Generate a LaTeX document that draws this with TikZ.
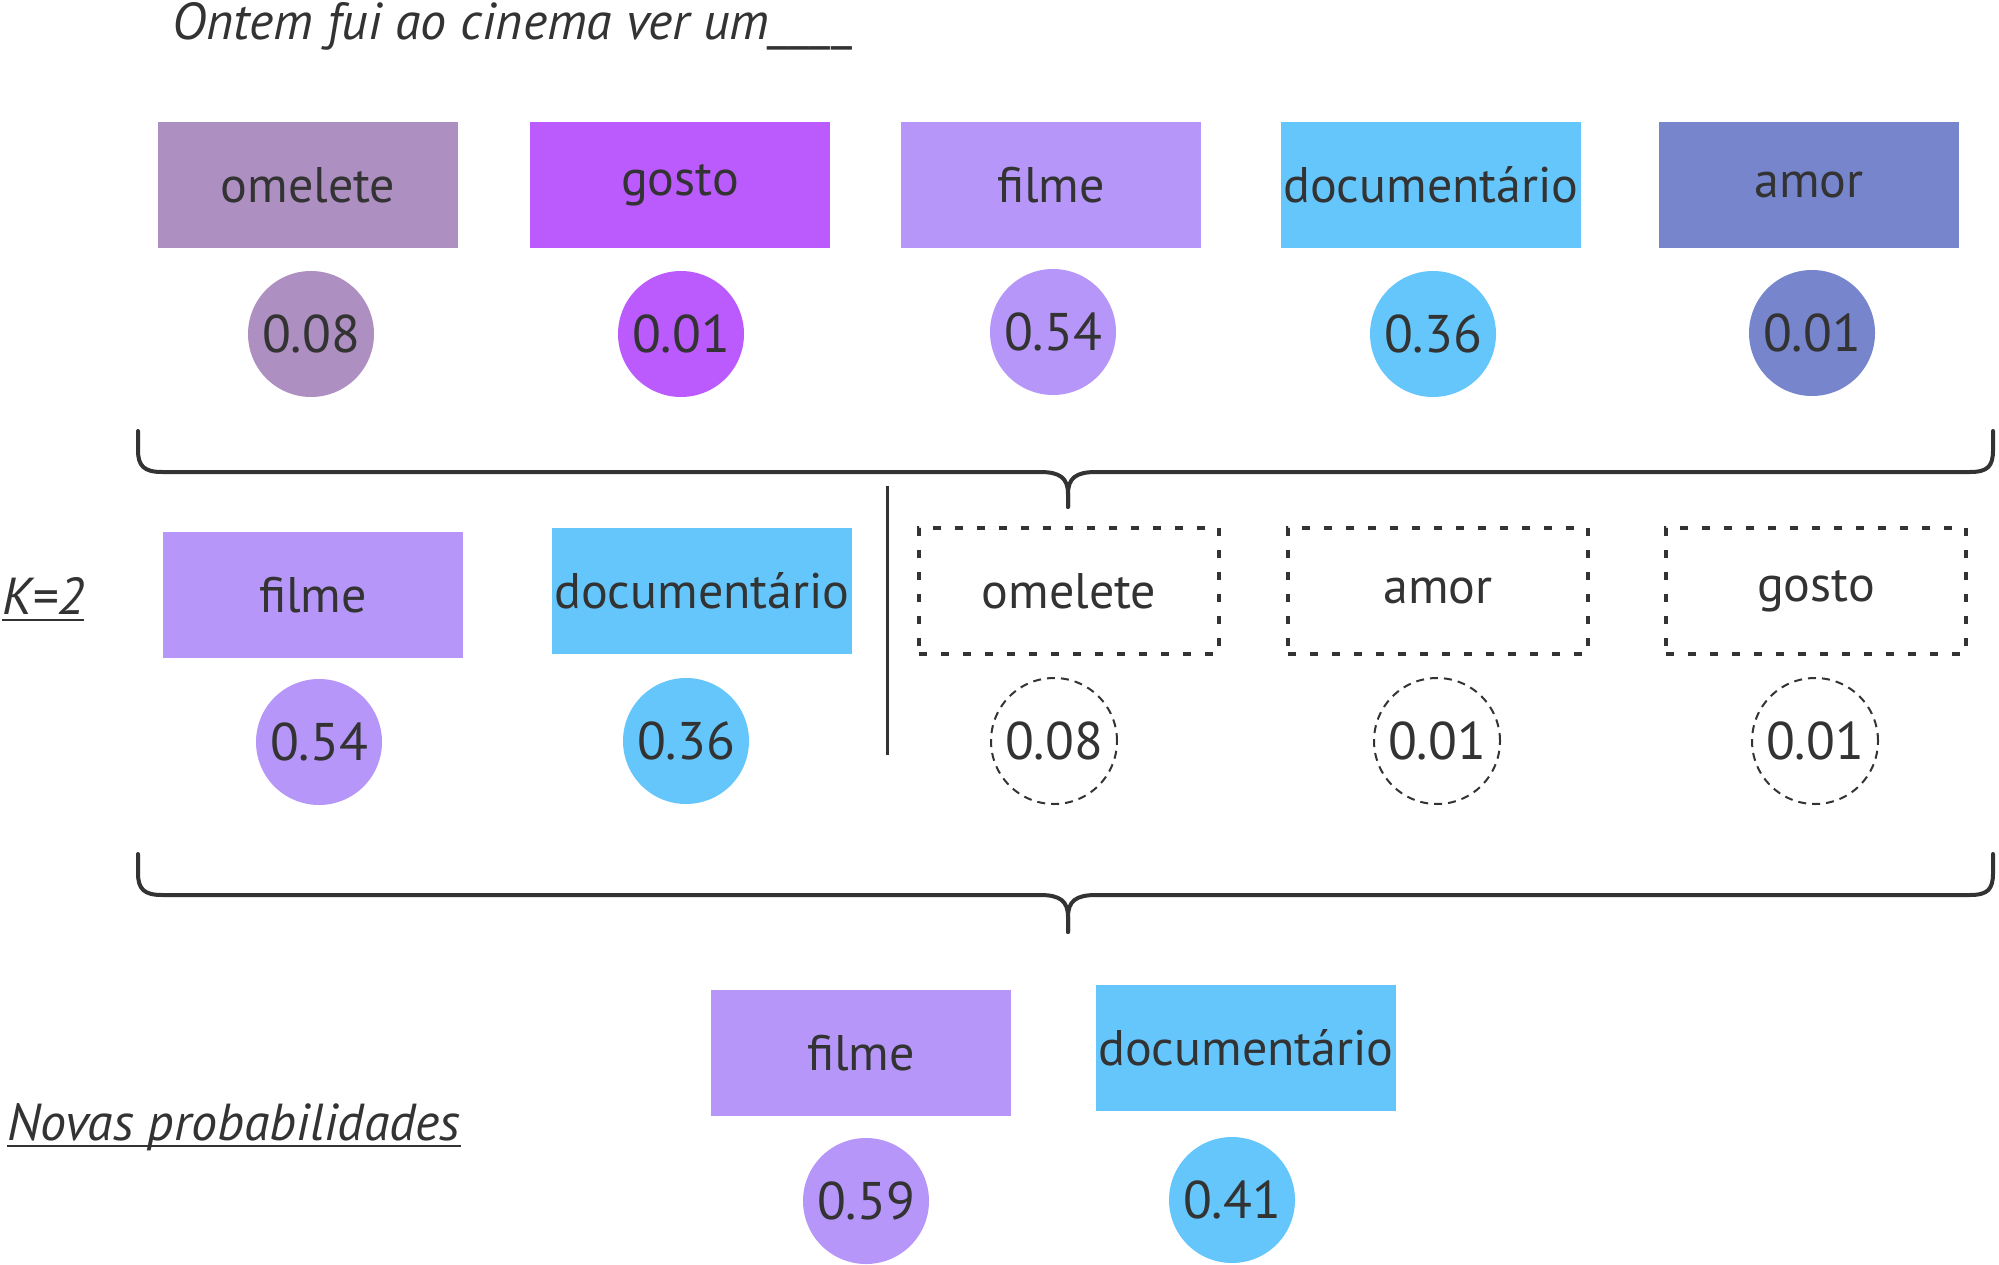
\documentclass[tikz,border=0pt]{standalone}
\usepackage{fontspec}
\setmainfont{PT Sans}
\usetikzlibrary{calc}
\definecolor{txt}{HTML}{333333}
\definecolor{cOme}{HTML}{AE8FC2}
\definecolor{cGos}{HTML}{BB5BFE}
\definecolor{cFil}{HTML}{B697F9}
\definecolor{cDoc}{HTML}{64C6FB}
\definecolor{cAmo}{HTML}{7786CC}
\tikzset{
  word/.style={rectangle, minimum width=300pt, minimum height=126pt, inner sep=0pt, text=txt, font=\fontsize{50}{56}\selectfont},
  prob/.style={circle, minimum size=126pt, inner sep=0pt, text=txt, font=\fontsize{53}{58}\selectfont},
  ghostbox/.style={word, draw=txt, line width=4pt, dash pattern=on 8pt off 14pt},
  ghostcirc/.style={prob, draw=txt, line width=2pt, dash pattern=on 8pt off 6pt},
  label/.style={text=txt, inner sep=0pt, font=\fontsize{52}{58}\selectfont\itshape},
  bracel/.style={draw=txt, line width=4pt, line cap=round, line join=round},
  sepline/.style={draw=txt, line width=3pt}
}
\begin{document}
\begin{tikzpicture}[x=1pt,y=-1pt]
\useasboundingbox (0,0) rectangle (1999,1265);
% title
\node[label, anchor=base west] (title) at (172,40) {Ontem fui ao cinema ver um\_\_\_\_};
% top row
\node[word, fill=cOme] (w1) at (308,185) {omelete};
\node[word, fill=cGos] (w2) at (680,185) {gosto};
\node[word, fill=cFil] (w3) at (1051,185) {filme};
\node[word, fill=cDoc] (w4) at (1431,185) {documentário};
\node[word, fill=cAmo] (w5) at (1809,185) {amor};
\node[prob, fill=cOme] (p1) at (311,334) {0.08};
\node[prob, fill=cGos] (p2) at (681,334) {0.01};
\node[prob, fill=cFil] (p3) at (1053,332) {0.54};
\node[prob, fill=cDoc] (p4) at (1433,334) {0.36};
\node[prob, fill=cAmo] (p5) at (1812,333) {0.01};
% brace 1
\coordinate (b1l) at (138,431);
\coordinate (b1t) at (1068,507);
\coordinate (b1r) at (1993,431);
\draw[bracel] (b1l) -- (138,450) .. controls (138,466) and (144,472) .. (162,472) -- (1040,472) .. controls (1060,472) and (1068,478) .. (1068,494) -- (b1t);
\draw[bracel] (b1t) -- (1068,494) .. controls (1068,478) and (1076,472) .. (1096,472) -- (1970,472) .. controls (1988,472) and (1993,466) .. (1993,450) -- (b1r);
% K=2
\node[label, anchor=base west] (k) at (2,614) {K=2};
\draw[txt, line width=2.5pt] ($(k.base west)+(0,6)$) -- ($(k.base east)+(0,6)$);
% middle row
\node[word, fill=cFil] (m1) at (313,595) {filme};
\node[word, fill=cDoc] (m2) at (702,591) {documentário};
\coordinate (s1) at (887,486);
\coordinate (s2) at (887,755);
\draw[sepline] (s1) -- (s2);
\node[ghostbox] (m3) at (1069,591) {omelete};
\node[ghostbox] (m4) at (1438,591) {amor};
\node[ghostbox] (m5) at (1816,591) {gosto};
\node[prob, fill=cFil] (q1) at (319,742) {0.54};
\node[prob, fill=cDoc] (q2) at (686,741) {0.36};
\node[ghostcirc] (q3) at (1054,741) {0.08};
\node[ghostcirc] (q4) at (1437,741) {0.01};
\node[ghostcirc] (q5) at (1815,741) {0.01};
% brace 2
\coordinate (b2l) at (138,854);
\coordinate (b2t) at (1068,932);
\coordinate (b2r) at (1993,854);
\draw[bracel] (b2l) -- (138,873) .. controls (138,889) and (144,895) .. (162,895) -- (1040,895) .. controls (1060,895) and (1068,901) .. (1068,917) -- (b2t);
\draw[bracel] (b2t) -- (1068,917) .. controls (1068,901) and (1076,895) .. (1096,895) -- (1970,895) .. controls (1988,895) and (1993,889) .. (1993,873) -- (b2r);
% bottom
\node[label, anchor=base west] (np) at (7,1140) {Novas probabilidades};
\draw[txt, line width=2.5pt] ($(np.base west)+(0,6)$) -- ($(np.base east)+(0,6)$);
\node[word, fill=cFil] (n1) at (861,1053) {filme};
\node[word, fill=cDoc] (n2) at (1246,1048) {documentário};
\node[prob, fill=cFil] (r1) at (866,1201) {0.59};
\node[prob, fill=cDoc] (r2) at (1232,1200) {0.41};
\end{tikzpicture}
\end{document}
